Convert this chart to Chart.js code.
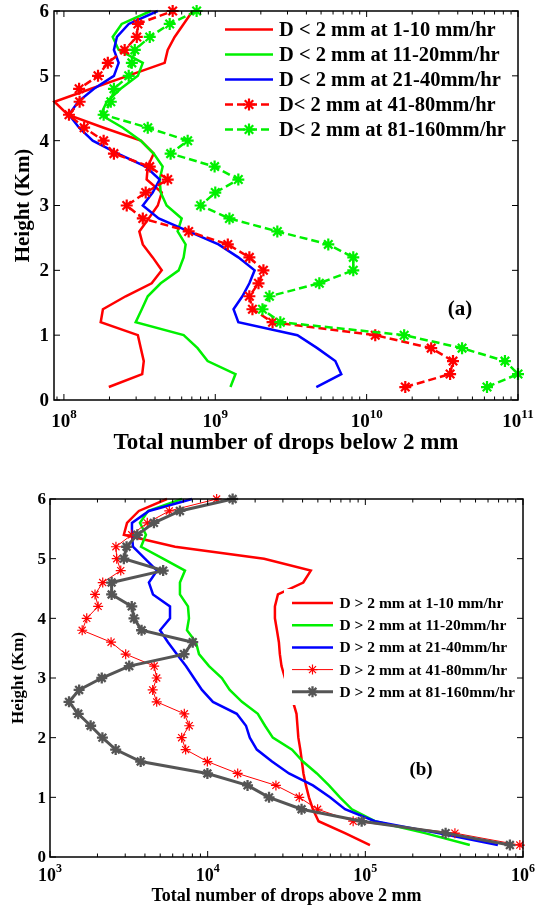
<!DOCTYPE html>
<html>
<head>
<meta charset="utf-8">
<script src="https://cdn.jsdelivr.net/npm/chart.js@4.4.1/dist/chart.umd.min.js"></script>
<style>
  html, body { margin: 0; padding: 0; background: #fff; }
  canvas { display: block; }
</style>
</head>
<body>
<canvas id="chartA" width="535" height="460"></canvas>
<canvas id="chartB" width="535" height="446"></canvas>
<script>
// heights (km) shared by every profile
const heights = [0.2, 0.4, 0.6, 0.8, 1.0, 1.2, 1.4, 1.6, 1.8, 2.0, 2.2, 2.4, 2.6, 2.8, 3.0,
                 3.2, 3.4, 3.6, 3.8, 4.0, 4.2, 4.4, 4.6, 4.8, 5.0, 5.2, 5.4, 5.6, 5.8, 6.0];
const yTicks = [0, 1, 2, 3, 4, 5, 6];

// panel (a): drops below 2 mm
const aLabels = ['D < 2 mm at 1-10 mm/hr', 'D < 2 mm at 11-20mm/hr', 'D < 2 mm at 21-40mm/hr',
                 'D< 2 mm at 41-80mm/hr', 'D< 2 mm at 81-160mm/hr'];
const aRate1_10 = [1.98e8, 3.29e8, 3.37e8, 3.22e8, 3.08e8, 1.75e8, 1.81e8, 2.56e8, 3.80e8, 4.43e8,
                   3.86e8, 3.32e8, 3.15e8, 3.63e8, 4.17e8, 4.43e8, 3.52e8, 3.58e8, 3.92e8, 3.22e8,
                   1.83e8, 1.06e8, 8.66e7, 1.51e8, 2.64e8, 4.63e8, 4.85e8, 5.39e8, 6.18e8, 7.08e8];
const aRate11_20 = [1.26e9, 1.36e9, 8.90e8, 7.64e8, 6.18e8, 2.98e8, 3.27e8, 3.58e8, 4.36e8, 5.73e8,
                    6.18e8, 6.37e8, 5.64e8, 6.00e8, 4.77e8, 4.36e8, 4.29e8, 4.49e8, 3.92e8, 3.22e8,
                    2.45e8, 1.75e8, 1.92e8, 2.37e8, 3.08e8, 3.32e8, 2.30e8, 2.10e8, 2.41e8, 3.75e8];
const aRate21_40 = [4.65e9, 6.80e9, 6.21e9, 4.72e9, 3.49e9, 1.42e9, 1.32e9, 1.51e9, 1.68e9, 1.82e9,
                    1.42e9, 1.05e9, 6.67e8, 4.23e8, 3.32e8, 3.86e8, 4.29e8, 3.47e8, 2.27e8, 1.55e8,
                    1.26e8, 1.08e8, 1.24e8, 1.58e8, 2.14e8, 2.30e8, 2.14e8, 2.24e8, 2.68e8, 4.17e8];
const aRate41_80 = [1.80e10, 3.56e10, 3.72e10, 2.67e10, 1.14e10, 2.39e9, 1.76e9, 1.68e9, 1.93e9, 2.08e9,
                    1.68e9, 1.21e9, 6.67e8, 3.32e8, 2.60e8, 3.47e8, 4.85e8, 3.69e8, 2.14e8, 1.83e8,
                    1.36e8, 1.08e8, 1.27e8, 1.26e8, 1.68e8, 1.95e8, 2.52e8, 3.03e8, 3.08e8, 5.23e8];
const aRate81_160 = [6.24e10, 1.0e11, 8.20e10, 4.27e10, 1.77e10, 2.69e9, 2.05e9, 2.28e9, 4.87e9, 8.16e9,
                     8.16e9, 5.58e9, 2.57e9, 1.24e9, 8.00e8, 1.00e9, 1.42e9, 9.90e8, 5.07e8, 6.57e8,
                     3.58e8, 1.83e8, 2.04e8, 2.14e8, 2.68e8, 2.81e8, 2.94e8, 3.69e8, 5.00e8, 7.53e8];
const aExponents = [8, 9, 10, 11];

// panel (b): drops above 2 mm
const bLabels = ['D > 2 mm at 1-10 mm/hr', 'D > 2 mm at 11-20mm/hr', 'D > 2 mm at 21-40mm/hr',
                 'D > 2 mm at 41-80mm/hr', 'D > 2 mm at 81-160mm/hr'];
const bRate1_10 = [1.07e5, 7.43e4, 5.05e4, 4.65e4, 4.39e4, 4.20e4, 4.05e4, 3.96e4, 3.87e4, 3.76e4,
                   3.71e4, 3.66e4, 3.48e4, 3.28e4, 3.09e4, 2.94e4, 2.87e4, 2.83e4, 2.75e4, 2.67e4,
                   2.67e4, 2.79e4, 4.04e4, 4.51e4, 2.28e4, 6.21e3, 2.94e3, 3.08e3, 3.66e3, 5.52e3];
const bRate11_20 = [4.60e5, 2.39e5, 1.15e5, 8.22e4, 6.90e4, 5.88e4, 4.93e4, 4.02e4, 3.43e4, 2.59e4,
                    2.31e4, 2.08e4, 1.65e4, 1.38e4, 1.23e4, 1.02e4, 8.81e3, 8.43e3, 7.39e3, 7.61e3,
                    7.50e3, 6.67e3, 6.67e3, 7.18e3, 5.21e3, 3.78e3, 4.06e3, 3.72e3, 4.18e3, 6.87e3];
const bRate21_40 = [6.93e5, 2.89e5, 1.15e5, 7.43e4, 5.97e4, 4.65e4, 3.28e4, 2.56e4, 2.05e4, 1.85e4,
                    1.75e4, 1.53e4, 1.08e4, 9.20e3, 8.18e3, 7.28e3, 6.38e3, 5.60e3, 4.99e3, 5.77e3,
                    5.77e3, 4.50e3, 4.24e3, 4.77e3, 4.00e3, 3.36e3, 3.31e3, 3.31e3, 4.24e3, 7.95e3];
const bRate41_80 = [9.55e5, 3.70e5, 8.37e4, 4.98e4, 3.81e4, 2.71e4, 1.55e4, 9.96e3, 7.25e3, 6.84e3,
                    7.64e3, 7.11e3, 4.75e3, 4.48e3, 4.75e3, 4.58e3, 3.02e3, 2.44e3, 1.60e3, 1.71e3,
                    2.02e3, 1.93e3, 2.16e3, 2.81e3, 2.65e3, 2.62e3, 3.30e3, 4.14e3, 5.71e3, 1.14e4];
const bRate81_160 = [8.26e5, 3.23e5, 9.48e4, 3.94e4, 2.45e4, 1.79e4, 9.96e3, 3.76e3, 2.61e3, 2.15e3,
                     1.81e3, 1.51e3, 1.32e3, 1.53e3, 2.13e3, 3.18e3, 7.08e3, 8.04e3, 3.81e3, 3.41e3,
                     3.30e3, 2.46e3, 2.46e3, 5.22e3, 2.94e3, 3.06e3, 3.58e3, 4.56e3, 6.67e3, 1.44e4];
const bExponents = [3, 4, 5, 6];

const RED = '#ff0000', GREEN = '#00f000', BLUE = '#0000ff', GRAY = '#555555';
const SERIF = '"Liberation Serif", "Times New Roman", serif';

function pts(vals) {
    return vals.map((v, i) => ({ x: v, y: heights[i] }));
}

function series(label, vals, color, opt) {
    return Object.assign({
        label,
        data: pts(vals),
        borderColor: color,
        backgroundColor: color,
        pointBackgroundColor: color,
        pointBorderColor: color,
        borderWidth: 2.5,
        pointRadius: 0,
        pointStyle: 'star',
        fill: false,
        tension: 0,
        clip: false
    }, opt);
}

function drawStar(ctx, x, y, r, color, lw) {
    ctx.save();
    ctx.strokeStyle = color;
    ctx.lineWidth = lw;
    ctx.beginPath();
    for (let k = 0; k < 4; k++) {
        let a = k * Math.PI / 4;
        ctx.moveTo(x - r * Math.cos(a), y - r * Math.sin(a));
        ctx.lineTo(x + r * Math.cos(a), y + r * Math.sin(a));
    }
    ctx.stroke();
    ctx.restore();
}

// frame, ticks, labels, titles and legend drawn with the chart's own scales
function decor(cfg) {
    return {
        id: 'decor',
        afterDatasetsDraw(chart) {
            const ctx = chart.ctx;
            const L = cfg.legend;
            ctx.save();
            ctx.fillStyle = '#fff';
            ctx.fillRect(L.box[0], L.box[1], L.box[2], L.box[3]);
            chart.data.datasets.forEach((ds, i) => {
                let y = L.y0 + i * L.dy;
                ctx.save();
                ctx.strokeStyle = ds.borderColor;
                ctx.lineWidth = ds.borderWidth;
                ctx.setLineDash(ds.borderDash || []);
                ctx.beginPath();
                ctx.moveTo(L.x0, y);
                ctx.lineTo(L.x1, y);
                ctx.stroke();
                ctx.restore();
                if (ds.pointRadius > 0) {
                    drawStar(ctx, (L.x0 + L.x1) / 2, y, ds.pointRadius, ds.borderColor, ds.pointBorderWidth);
                }
                ctx.fillStyle = '#000';
                ctx.font = 'bold ' + L.font + 'px ' + SERIF;
                ctx.textBaseline = 'middle';
                ctx.textAlign = 'left';
                ctx.fillText(ds.label, L.tx, y + 1);
            });
            ctx.restore();
        },
        afterDraw(chart) {
            const ctx = chart.ctx;
            const a = chart.chartArea;
            const xs = chart.scales.x, ys = chart.scales.y;
            ctx.save();
            ctx.strokeStyle = '#000';
            ctx.lineWidth = 1.5;
            ctx.strokeRect(a.left, a.top, a.right - a.left, a.bottom - a.top);

            // x ticks (log decades + minors), inward on bottom and top
            ctx.lineWidth = 1;
            ctx.beginPath();
            const e0 = Math.floor(Math.log10(xs.min)), e1 = Math.ceil(Math.log10(xs.max));
            for (let e = e0; e <= e1; e++) {
                for (let m = 1; m <= 9; m++) {
                    let v = m * Math.pow(10, e);
                    if (v < xs.min || v > xs.max * 1.0001) continue;
                    let px = xs.getPixelForValue(v);
                    let len = m === 1 ? 6 : 3.5;
                    ctx.moveTo(px, a.bottom); ctx.lineTo(px, a.bottom - len);
                    ctx.moveTo(px, a.top); ctx.lineTo(px, a.top + len);
                }
            }
            yTicks.forEach(t => {
                let py = ys.getPixelForValue(t);
                ctx.moveTo(a.left, py); ctx.lineTo(a.left + 6, py);
                ctx.moveTo(a.right, py); ctx.lineTo(a.right - 6, py);
            });
            ctx.stroke();

            // y tick labels
            ctx.fillStyle = '#000';
            ctx.font = 'bold ' + cfg.yFont + 'px ' + SERIF;
            ctx.textAlign = 'right';
            ctx.textBaseline = 'middle';
            yTicks.forEach(t => {
                ctx.fillText(String(t), cfg.yLabelX, ys.getPixelForValue(t) + 1);
            });

            // x tick labels as 10^n
            ctx.textBaseline = 'alphabetic';
            ctx.textAlign = 'left';
            cfg.exps.forEach(e => {
                let px = xs.getPixelForValue(Math.pow(10, e));
                ctx.font = 'bold ' + cfg.xFont + 'px ' + SERIF;
                let w1 = ctx.measureText('10').width;
                ctx.font = 'bold ' + cfg.expFont + 'px ' + SERIF;
                let w2 = ctx.measureText(String(e)).width;
                let start = px - (w1 + w2) / 2;
                ctx.font = 'bold ' + cfg.xFont + 'px ' + SERIF;
                ctx.fillText('10', start, cfg.xBase);
                ctx.font = 'bold ' + cfg.expFont + 'px ' + SERIF;
                ctx.fillText(String(e), start + w1, cfg.xBase - cfg.raise);
            });

            // axis titles
            ctx.textAlign = 'center';
            ctx.textBaseline = 'middle';
            ctx.font = 'bold ' + cfg.xTitleFont + 'px ' + SERIF;
            ctx.fillText(cfg.xTitle, (a.left + a.right) / 2, cfg.xTitleY);
            ctx.save();
            ctx.translate(cfg.yTitleX, (a.top + a.bottom) / 2);
            ctx.rotate(-Math.PI / 2);
            ctx.font = 'bold ' + cfg.yTitleFont + 'px ' + SERIF;
            ctx.fillText('Height (Km)', 0, 0);
            ctx.restore();

            // panel tag
            ctx.font = 'bold ' + cfg.tagFont + 'px ' + SERIF;
            ctx.fillText(cfg.tag, cfg.tagX, cfg.tagY);
            ctx.restore();
        }
    };
}

function makeChart(id, datasets, xMin, xMax, padding, cfg) {
    datasets.forEach((ds, i) => { ds.order = datasets.length - i; });
    return new Chart(document.getElementById(id), {
        type: 'line',
        data: { datasets },
        options: {
            responsive: false,
            animation: false,
            layout: { padding },
            scales: {
                x: { type: 'logarithmic', min: xMin, max: xMax, display: false },
                y: { type: 'linear', min: 0, max: 6, display: false }
            },
            plugins: { legend: { display: false }, tooltip: { enabled: false } }
        },
        plugins: [decor(cfg)]
    });
}

const dashA = [8, 4];
makeChart('chartA', [
    series(aLabels[0], aRate1_10, RED),
    series(aLabels[1], aRate11_20, GREEN),
    series(aLabels[2], aRate21_40, BLUE),
    series(aLabels[3], aRate41_80, RED, { borderDash: dashA, pointRadius: 6, pointBorderWidth: 2.2 }),
    series(aLabels[4], aRate81_160, GREEN, { borderDash: dashA, pointRadius: 6, pointBorderWidth: 2.2 })
], 8.6e7, 1e11, { left: 54, right: 17, top: 11, bottom: 60 }, {
    exps: aExponents, xFont: 19, expFont: 13, xBase: 427, raise: 9,
    yFont: 19, yLabelX: 49,
    xTitle: 'Total number of drops below 2 mm', xTitleFont: 23, xTitleY: 443,
    yTitleX: 24, yTitleFont: 21,
    tag: '(a)', tagFont: 21, tagX: 460, tagY: 310,
    legend: { box: [220, 15, 296, 128], x0: 225, x1: 273, tx: 279, y0: 29.5, dy: 25, font: 20.5 }
});

makeChart('chartB', [
    series(bLabels[0], bRate1_10, RED),
    series(bLabels[1], bRate11_20, GREEN),
    series(bLabels[2], bRate21_40, BLUE),
    series(bLabels[3], bRate41_80, RED, { borderWidth: 1, pointRadius: 5, pointBorderWidth: 1.2 }),
    series(bLabels[4], bRate81_160, GRAY, { borderWidth: 3, pointRadius: 5.5, pointBorderWidth: 2.3 })
], 1e3, 1e6, { left: 50, right: 12, top: 39, bottom: 49 }, {
    exps: bExponents, xFont: 18, expFont: 12, xBase: 421, raise: 9,
    yFont: 17, yLabelX: 46,
    xTitle: 'Total number of drops above 2 mm', xTitleFont: 18, xTitleY: 436,
    yTitleX: 19, yTitleFont: 17,
    tag: '(b)', tagFont: 19, tagX: 421, tagY: 310,
    legend: { box: [284, 129, 236, 116], x0: 292, x1: 333, tx: 339.5, y0: 143, dy: 22.2, font: 15.5 }
});
</script>
</body>
</html>
